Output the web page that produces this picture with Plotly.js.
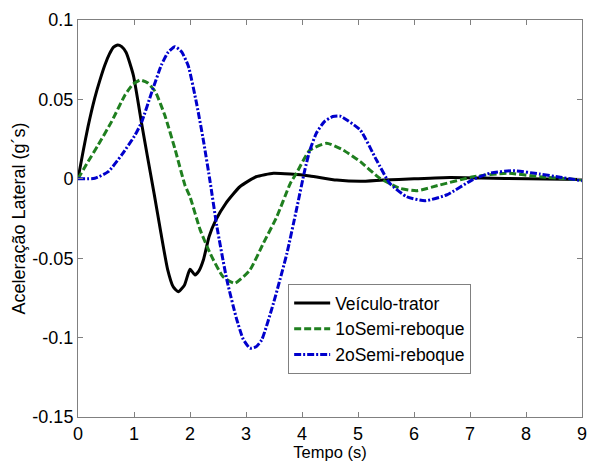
<!DOCTYPE html>
<html>
<head>
<meta charset="utf-8">
<script src="https://cdn.plot.ly/plotly-3.0.1.min.js"></script>
<style>html,body{margin:0;padding:0;background:#fff;}#chart{width:595px;height:461px;}</style>
</head>
<body>
<div id="chart"></div>
<script>
// Veículo-trator
var tTrator = [0, 0.09, 0.18, 0.30, 0.39, 0.48, 0.56, 0.63, 0.71, 0.78, 0.86, 0.99, 1.14, 1.24, 1.36, 1.48, 1.60, 1.70, 1.79, 1.90, 2.0, 2.09, 2.16, 2.24, 2.34, 2.46, 2.64, 2.89, 3.18, 3.49, 3.79, 4.14, 4.62, 5.04, 5.45, 6.0, 6.64, 7.2, 8.04, 9.0];
var vTrator = [0, 0.017, 0.033, 0.051, 0.062, 0.0717, 0.0785, 0.0828, 0.0843, 0.0832, 0.0795, 0.065, 0.034, 0.014, -0.0095, -0.034, -0.057, -0.068, -0.0711, -0.067, -0.057, -0.0606, -0.058, -0.051, -0.0365, -0.026, -0.0154, -0.005, 0.0013, 0.0035, 0.003, 0.0018, -0.0008, -0.0016, -0.0008, 0, 0.0008, 0.0005, 0, -0.0005];
// 1oSemi-reboque
var tSemi1 = [0, 0.18, 0.36, 0.6, 0.84, 0.98, 1.11, 1.24, 1.38, 1.55, 1.73, 1.91, 2.0, 2.18, 2.36, 2.59, 2.80, 3.07, 3.31, 3.55, 3.79, 3.9, 4.14, 4.44, 4.74, 5.04, 5.39, 5.75, 6.05, 6.46, 7.06, 7.66, 8.25, 9.0];
var vSemi1 = [0, 0.0108, 0.0213, 0.036, 0.0528, 0.0595, 0.0622, 0.0605, 0.0549, 0.040, 0.019, -0.004, -0.0113, -0.032, -0.047, -0.0617, -0.0658, -0.0574, -0.0406, -0.0239, -0.003, 0.0035, 0.018, 0.0224, 0.018, 0.0108, 0.0003, -0.006, -0.0075, -0.0039, 0.0013, 0.0035, 0.0013, -0.0008];
// 2oSemi-reboque
var tSemi2 = [0, 0.30, 0.54, 0.78, 1.02, 1.14, 1.32, 1.49, 1.61, 1.73, 1.85, 1.97, 2.12, 2.24, 2.36, 2.48, 2.66, 2.83, 2.95, 3.07, 3.18, 3.28, 3.49, 3.73, 3.9, 4.05, 4.14, 4.26, 4.4, 4.55, 4.68, 5.04, 5.33, 5.57, 5.87, 6.2, 6.58, 7.06, 7.36, 7.77, 8.25, 8.61, 9.0];
var vSemi2 = [0, 0.0003, 0.0045, 0.015, 0.0276, 0.036, 0.0549, 0.0717, 0.0797, 0.0832, 0.080, 0.071, 0.047, 0.024, -0.002, -0.03, -0.064, -0.088, -0.101, -0.1067, -0.1058, -0.1015, -0.0784, -0.047, -0.0196, 0.0055, 0.018, 0.029, 0.036, 0.0392, 0.0395, 0.0307, 0.0118, -0.003, -0.0113, -0.0138, -0.0102, -0.0003, 0.0035, 0.0051, 0.003, 0.001, -0.0012];

var seriesNames = ["Veículo-trator", "1oSemi-reboque", "2oSemi-reboque"];
var xTickVals = [0, 1, 2, 3, 4, 5, 6, 7, 8, 9];
var xTickText = ["0", "1", "2", "3", "4", "5", "6", "7", "8", "9"];
var yTickVals = [-0.15, -0.1, -0.05, 0, 0.05, 0.1];
var yTickText = ["-0.15", "-0.1", "-0.05", "0", "0.05", "0.1"];

var font = "Arial, 'Liberation Sans', sans-serif";

var traces = [
  {x: tTrator, y: vTrator, name: seriesNames[0], mode: "lines",
   line: {color: "#000000", width: 3, shape: "spline", smoothing: 0.5}},
  {x: tSemi1, y: vSemi1, name: seriesNames[1], mode: "lines",
   line: {color: "#1f7f1f", width: 3, dash: "7px,3px", shape: "spline", smoothing: 0.5}},
  {x: tSemi2, y: vSemi2, name: seriesNames[2], mode: "lines",
   line: {color: "#0000cc", width: 3, dash: "7px,2px,2px,2px", shape: "spline", smoothing: 0.5}}
];

var axisCommon = {
  showgrid: false, zeroline: false, showline: true, linecolor: "#808080", linewidth: 1,
  mirror: "ticks", ticks: "inside", ticklen: 5, tickcolor: "#808080", tickwidth: 1,
  tickfont: {family: font, size: 18, color: "#000"}
};

var layout = {
  width: 595, height: 461,
  margin: {l: 78, r: 13, t: 20, b: 44},
  paper_bgcolor: "#fff", plot_bgcolor: "#fff",
  showlegend: true,
  legend: {x: 0.417, y: 0.335, xanchor: "left", yanchor: "top",
    bgcolor: "#fff", bordercolor: "#808080", borderwidth: 1, itemwidth: 36,
    font: {family: font, size: 17.5, color: "#000"}, tracegroupgap: 0},
  xaxis: Object.assign({}, axisCommon, {
    range: [0, 9], tickmode: "array", tickvals: xTickVals, ticktext: xTickText,
    title: {text: "Tempo (s)", font: {family: font, size: 16.5, color: "#000"}, standoff: 2}
  }),
  yaxis: Object.assign({}, axisCommon, {
    range: [-0.15, 0.1], tickmode: "array", tickvals: yTickVals, ticktext: yTickText,
    title: {text: "Aceleração Lateral (g´s)", font: {family: font, size: 18, color: "#000"}, standoff: 2}
  })
};

Plotly.newPlot("chart", traces, layout, {displayModeBar: false, staticPlot: true});
</script>
</body>
</html>
